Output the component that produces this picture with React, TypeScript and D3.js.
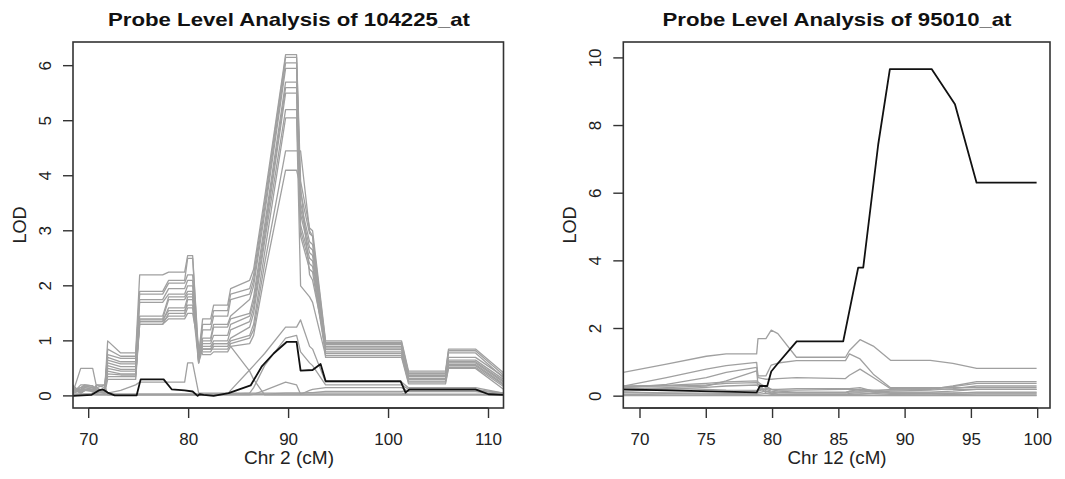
import React from "react";
import * as d3 from "d3";

// ---------- Left panel: 104225_at ----------
const leftTitle = "Probe Level Analysis of 104225_at";
const leftXLabel = "Chr 2 (cM)";
const leftXTicks = [70, 80, 90, 100, 110];
const leftYTicks = [0, 1, 2, 3, 4, 5, 6];
const leftXDomain = [68.43, 111.5];
const leftYDomain = [-0.22, 6.43];

const leftX = [68.4, 69.2, 69.6, 70.4, 70.8, 71.6, 71.9, 73.2, 74.7, 75.1, 77.4, 78.0, 79.6, 79.9, 80.4, 81.0, 81.4, 82.2, 82.5, 83.9, 84.2, 86.1, 86.5, 87.6, 89.7, 90.8, 91.2, 92.1, 92.4, 93.7, 101.3, 102.0, 105.7, 106.0, 108.7, 111.5];

const leftProbes: number[][] = [
  [0.12,0.05,0.1,0.1,0.05,0.1, 1.0,0.78,0.78, 2.2,2.2, 2.25,2.25, 2.55,2.55, 0.75, 1.4,1.4, 1.65,1.65, 1.95,2.1, 2.3,3.6, 6.2,6.2, 3.9,3.05,3.0, 1.0,1.0, 0.45,0.45, 0.85,0.85, 0.42],
  [0.1,0.12,0.18,0.15,0.08,0.05, 0.85,0.72,0.72, 1.9,1.9, 2.1,2.1, 2.5,2.5, 0.7, 1.3,1.3, 1.55,1.55, 1.85,1.95, 2.2,3.5, 6.15,6.15, 3.7,2.95,2.9, 0.97,0.97, 0.42,0.42, 0.82,0.82, 0.38],
  [0.08,0.15,0.2,0.18,0.1,0.08, 0.75,0.68,0.68, 1.85,1.85, 2.05,2.05, 2.2,2.2, 0.65, 1.2,1.2, 1.45,1.45, 1.75,1.85, 2.1,3.4, 6.05,6.05, 3.5,2.8,2.75, 0.93,0.93, 0.4,0.4, 0.78,0.78, 0.33],
  [0.05,0.1,0.15,0.12,0.2,0.15, 0.7,0.62,0.62, 1.75,1.75, 1.95,1.95, 2.1,2.1, 0.6, 1.05,1.05, 1.3,1.3, 1.45,1.75, 2.0,3.3, 5.95,5.95, 3.4,2.7,2.65, 0.9,0.9, 0.37,0.37, 0.65,0.65, 0.3],
  [0.15,0.05,0.1,0.1,0.15,0.2, 0.65,0.58,0.58, 1.7,1.7, 1.85,1.85, 2.0,2.0, 0.6, 1.0,1.0, 1.25,1.25, 1.4,1.5, 1.8,3.1, 5.7,5.7, 3.3,2.6,2.55, 0.87,0.87, 0.35,0.35, 0.62,0.62, 0.27],
  [0.18,0.08,0.12,0.1,0.05,0.1, 0.6,0.53,0.53, 1.45,1.45, 1.8,1.8, 1.9,1.9, 0.65, 0.95,0.95, 1.1,1.1, 1.3,1.45, 1.7,3.0, 5.6,5.6, 3.1,2.5,2.45, 0.84,0.84, 0.32,0.32, 0.6,0.6, 0.25],
  [0.1,0.15,0.17,0.15,0.1,0.05, 0.55,0.48,0.48, 1.4,1.4, 1.75,1.75, 1.85,1.85, 0.7, 0.9,0.9, 1.0,1.0, 1.2,1.35, 1.6,2.9, 5.5,5.5, 3.0,2.4,2.35, 0.8,0.8, 0.3,0.3, 0.57,0.57, 0.22],
  [0.05,0.2,0.2,0.18,0.12,0.05, 0.5,0.45,0.45, 1.35,1.35, 1.6,1.6, 1.8,1.8, 0.75, 0.85,0.85, 0.95,0.95, 1.05,1.25, 1.5,2.8, 5.2,5.2, 2.9,2.3,2.25, 0.77,0.77, 0.27,0.27, 0.55,0.55, 0.2],
  [0.08,0.1,0.15,0.12,0.08,0.1, 0.45,0.4,0.4, 1.3,1.3, 1.5,1.5, 1.75,1.75, 0.8, 0.8,0.8, 0.9,0.9, 1.0,1.1, 1.3,2.6, 5.05,5.05, 2.0,1.8,1.7, 0.73,0.73, 0.25,0.25, 0.52,0.52, 0.17],
  [0.2,0.05,0.1,0.08,0.05,0.12, 0.35,0.35,0.35, 1.35,1.35, 1.45,1.45, 1.6,1.6, 0.85, 0.85,0.85, 0.85,0.85, 0.95,1.05, 1.2,2.4, 4.45,4.45, 4.45,3.0,2.9, 0.7,0.7, 0.22,0.22, 0.5,0.5, 0.12],
  [0.05,0.1,0.12,0.1,0.08,0.05, 0.3,0.3,0.3, 1.3,1.3, 1.4,1.4, 1.5,1.5, 0.9, 0.75,0.75, 0.8,0.8, 0.9,0.95, 1.1,2.2, 4.1,4.1, 3.8,2.2,2.1, 0.95,0.95, 0.4,0.4, 0.7,0.7, 0.35],
  [0.1,0.08,0.1,0.12,0.1,0.08, 0.4,0.38,0.38, 1.38,1.38, 1.55,1.55, 1.65,1.65, 0.6, 0.85,0.85, 0.95,0.95, 0.9,0.45, 0.3,0.02, 0.02,0.02, 0.02,0.02,0.02, 0.02,0.02, 0.02,0.02, 0.02,0.02, 0.02],
  [0.02,0.02,0.03,0.03,0.02,0.02, 0.02,0.02,0.02, 0.02,0.02, 0.02,0.02, 0.02,0.02, 0.02, 0.02,0.02, 0.02,0.03, 0.1,0.47, 0.55,0.77, 1.25,1.25, 1.38,0.9,0.85, 0.25,0.25, 0.15,0.15, 0.15,0.15, 0.05],
  [0.03,0.03,0.03,0.03,0.03,0.03, 0.03,0.03,0.03, 0.03,0.03, 0.03,0.03, 0.03,0.03, 0.03, 0.03,0.03, 0.03,0.03, 0.03,0.05, 0.15,0.55, 1.05,1.1, 0.8,0.6,0.55, 0.2,0.2, 0.12,0.12, 0.12,0.12, 0.05],
  [0.02,0.02,0.02,0.02,0.02,0.02, 0.02,0.02,0.02, 0.02,0.02, 0.02,0.02, 0.02,0.02, 0.02, 0.02,0.02, 0.02,0.02, 0.02,0.02, 0.03,0.1, 0.25,0.2, 0.03,0.1,0.12, 0.15,0.15, 0.08,0.08, 0.08,0.08, 0.02],
  [0.05,0.5,0.5,0.5,0.15,0.05, 0.05,0.1,0.2, 0.25,0.25, 0.25,0.25, 0.6,0.6, 0.05, 0.05,0.05, 0.05,0.05, 0.05,0.05, 0.05,0.05, 0.05,0.05, 0.05,0.05,0.05, 0.05,0.05, 0.03,0.03, 0.03,0.03, 0.03],
  [0.0,0.02,0.02,0.05,0.2,0.2, 0.02,0.02,0.02, 0.02,0.02, 0.02,0.02, 0.02,0.02, 0.02, 0.02,0.02, 0.02,0.02, 0.02,0.02, 0.02,0.02, 0.02,0.02, 0.02,0.02,0.02, 0.02,0.02, 0.02,0.02, 0.02,0.02, 0.02],
  [0.03,0.03,0.03,0.03,0.03,0.03, 0.03,0.03,0.03, 0.03,0.03, 0.03,0.03, 0.03,0.03, 0.03, 0.03,0.03, 0.03,0.03, 0.03,0.03, 0.03,0.03, 0.05,0.05, 0.05,0.06,0.06, 0.08,0.08, 0.1,0.1, 0.1,0.1, 0.04],
];

const leftTotalX = [68.4, 70.3, 71.0, 71.4, 71.9, 72.6, 74.8, 75.2, 77.5, 78.3, 79.6, 80.4, 80.9, 81.1, 81.5, 82.5, 84.0, 86.2, 87.3, 88.5, 89.8, 90.8, 91.2, 92.4, 93.2, 93.7, 101.2, 101.7, 102.1, 105.7, 108.7, 110.0, 111.5];
const leftTotalY = [0.0, 0.02, 0.1, 0.12, 0.06, 0.01, 0.01, 0.3, 0.3, 0.12, 0.1, 0.08, 0.0, 0.03, 0.02, 0.0, 0.05, 0.19, 0.53, 0.77, 0.98, 0.98, 0.46, 0.47, 0.58, 0.27, 0.27, 0.06, 0.12, 0.12, 0.12, 0.03, 0.02];

// ---------- Right panel: 95010_at ----------
const rightTitle = "Probe Level Analysis of 95010_at";
const rightXLabel = "Chr 12 (cM)";
const rightXTicks = [70, 75, 80, 85, 90, 95, 100];
const rightYTicks = [0, 2, 4, 6, 8, 10];
const rightXDomain = [68.74, 100.93];
const rightYDomain = [-0.35, 10.47];

const rightX = [68.74, 72.0, 75.0, 76.5, 78.8, 78.9, 79.5, 79.9, 80.4, 81.8, 85.5, 85.8, 86.6, 87.6, 88.9, 91.9, 93.6, 95.4, 99.92];

const rightProbes: number[][] = [
  [0.7, 0.95, 1.18, 1.25, 1.25, 1.7, 1.7, 1.95, 1.85, 1.15, 1.15, 1.35, 1.67, 1.48, 1.06, 1.06, 0.97, 0.82, 0.82],
  [0.3, 0.55, 0.8, 0.9, 1.0, 0.6, 0.6, 0.92, 0.98, 1.05, 1.05, 1.25, 1.1, 0.65, 0.25, 0.25, 0.25, 0.25, 0.25],
  [0.25, 0.35, 0.55, 0.7, 0.85, 0.55, 0.5, 0.5, 0.52, 0.55, 0.52, 0.62, 0.8, 0.55, 0.22, 0.22, 0.2, 0.2, 0.2],
  [0.2, 0.25, 0.3, 0.45, 0.75, 0.35, 0.3, 0.2, 0.2, 0.22, 0.22, 0.22, 0.25, 0.15, 0.1, 0.1, 0.1, 0.1, 0.1],
  [0.3, 0.32, 0.38, 0.42, 0.45, 0.42, 0.25, 0.2, 0.18, 0.18, 0.2, 0.2, 0.2, 0.18, 0.18, 0.2, 0.3, 0.43, 0.43],
  [0.28, 0.3, 0.33, 0.38, 0.4, 0.35, 0.15, 0.12, 0.1, 0.1, 0.1, 0.12, 0.12, 0.15, 0.2, 0.22, 0.28, 0.38, 0.38],
  [0.15, 0.2, 0.26, 0.3, 0.33, 0.3, 0.1, 0.08, 0.06, 0.05, 0.05, 0.05, 0.06, 0.1, 0.15, 0.18, 0.22, 0.3, 0.3],
  [0.12, 0.1, 0.09, 0.08, 0.08, 0.15, 0.22, 0.2, 0.15, 0.12, 0.12, 0.14, 0.16, 0.15, 0.12, 0.12, 0.15, 0.2, 0.2],
  [0.1, 0.08, 0.06, 0.05, 0.05, 0.1, 0.15, 0.1, 0.05, 0.05, 0.05, 0.08, 0.1, 0.08, 0.05, 0.06, 0.08, 0.12, 0.12],
  [0.05, 0.04, 0.03, 0.03, 0.03, 0.05, 0.08, 0.05, 0.03, 0.03, 0.03, 0.03, 0.04, 0.03, 0.03, 0.03, 0.05, 0.07, 0.07],
  [0.02, 0.02, 0.02, 0.02, 0.02, 0.02, 0.02, 0.02, 0.02, 0.02, 0.02, 0.02, 0.02, 0.02, 0.02, 0.02, 0.02, 0.02, 0.02],
  [0.25, 0.22, 0.2, 0.18, 0.17, 0.2, 0.2, 0.15, 0.12, 0.1, 0.1, 0.15, 0.2, 0.12, 0.08, 0.08, 0.05, 0.03, 0.03],
];

const rightTotalX = [68.74, 78.8, 79.05, 79.6, 79.9, 80.3, 81.82, 85.33, 86.46, 86.84, 87.97, 88.85, 92.0, 93.76, 95.39, 99.92];
const rightTotalY = [0.2, 0.11, 0.3, 0.3, 0.73, 0.92, 1.62, 1.62, 3.8, 3.8, 7.44, 9.67, 9.67, 8.63, 6.31, 6.31];

const FONT = "'Liberation Sans', Arial, Helvetica, sans-serif";
const GRAY = "#a0a0a0";
const BLACK = "#111";
const AXIS = "#333";

type PanelProps = {
  id: string;
  box: { left: number; right: number; top: number; bottom: number };
  titleX: number;
  title: string;
  titleWidth: number;
  xLabel: string;
  xLabelWidth: number;
  xDomain: number[];
  yDomain: number[];
  xTicks: number[];
  yTicks: number[];
  probeX: number[];
  probes: number[][];
  totalX: number[];
  totalY: number[];
};

function Panel(p: PanelProps) {
  const x = d3.scaleLinear().domain(p.xDomain).range([p.box.left, p.box.right]);
  const y = d3.scaleLinear().domain(p.yDomain).range([p.box.bottom, p.box.top]);
  const line = d3
    .line<[number, number]>()
    .x((d) => x(d[0]))
    .y((d) => y(d[1]));
  const tick = 10;
  const midY = (p.box.top + p.box.bottom) / 2;
  return (
    <g>
      <defs>
        <clipPath id={p.id}>
          <rect x={p.box.left} y={p.box.top} width={p.box.right - p.box.left} height={p.box.bottom - p.box.top} />
        </clipPath>
      </defs>
      <text
        x={p.titleX - p.titleWidth / 2}
        y={25.5}
        textLength={p.titleWidth}
        lengthAdjust="spacingAndGlyphs"
        fontFamily={FONT}
        fontWeight="bold"
        fontSize={18.5}
        fill="#111"
      >
        {p.title}
      </text>
      <g clipPath={`url(#${p.id})`} fill="none">
        {p.probes.map((row, i) => (
          <path
            key={i}
            d={line(row.map((v, j) => [p.probeX[j], v]) as [number, number][]) || ""}
            stroke={GRAY}
            strokeWidth={1.3}
            strokeLinejoin="round"
          />
        ))}
        <path
          d={line(p.totalY.map((v, j) => [p.totalX[j], v]) as [number, number][]) || ""}
          stroke={BLACK}
          strokeWidth={1.8}
          strokeLinejoin="round"
        />
      </g>
      <rect
        x={p.box.left}
        y={p.box.top}
        width={p.box.right - p.box.left}
        height={p.box.bottom - p.box.top}
        fill="none"
        stroke={AXIS}
        strokeWidth={1.6}
      />
      <line x1={x(p.xTicks[0])} x2={x(p.xTicks[p.xTicks.length - 1])} y1={p.box.bottom} y2={p.box.bottom} stroke={AXIS} strokeWidth={1.6} />
      {p.xTicks.map((t) => (
        <g key={`x${t}`}>
          <line x1={x(t)} x2={x(t)} y1={p.box.bottom} y2={p.box.bottom + tick} stroke={AXIS} strokeWidth={1.4} />
          <text x={x(t)} y={445} textAnchor="middle" fontFamily={FONT} fontSize={17} fill="#222">
            {t}
          </text>
        </g>
      ))}
      {p.yTicks.map((t) => (
        <g key={`y${t}`}>
          <line x1={p.box.left - tick} x2={p.box.left} y1={y(t)} y2={y(t)} stroke={AXIS} strokeWidth={1.4} />
          <text
            transform={`translate(${p.box.left - 22},${y(t)}) rotate(-90)`}
            textAnchor="middle"
            fontFamily={FONT}
            fontSize={17}
            fill="#222"
          >
            {t}
          </text>
        </g>
      ))}
      <text
        x={p.titleX - p.xLabelWidth / 2}
        y={464}
        textLength={p.xLabelWidth}
        lengthAdjust="spacingAndGlyphs"
        fontFamily={FONT}
        fontSize={18}
        fill="#222"
      >
        {p.xLabel}
      </text>
      <text
        transform={`translate(${p.box.left - 47.5},${midY}) rotate(-90)`}
        textAnchor="middle"
        fontFamily={FONT}
        fontSize={18}
        fill="#222"
      >
        LOD
      </text>
    </g>
  );
}

export default function App() {
  return (
    <svg
      width={1065}
      height={479}
      style={{ position: "absolute", left: 0, top: 0, background: "#fff" }}
    >
      <rect x={0} y={0} width={1065} height={479} fill="#fff" />
      <Panel
        id="clipL"
        box={{ left: 73, right: 503.5, top: 42, bottom: 408 }}
        titleX={289}
        title={leftTitle}
        titleWidth={362}
        xLabel={leftXLabel}
        xLabelWidth={90}
        xDomain={leftXDomain}
        yDomain={leftYDomain}
        xTicks={leftXTicks}
        yTicks={leftYTicks}
        probeX={leftX}
        probes={leftProbes}
        totalX={leftTotalX}
        totalY={leftTotalY}
      />
      <Panel
        id="clipR"
        box={{ left: 623.3, right: 1050, top: 42, bottom: 408 }}
        titleX={837}
        title={rightTitle}
        titleWidth={349}
        xLabel={rightXLabel}
        xLabelWidth={99}
        xDomain={rightXDomain}
        yDomain={rightYDomain}
        xTicks={rightXTicks}
        yTicks={rightYTicks}
        probeX={rightX}
        probes={rightProbes}
        totalX={rightTotalX}
        totalY={rightTotalY}
      />
    </svg>
  );
}
